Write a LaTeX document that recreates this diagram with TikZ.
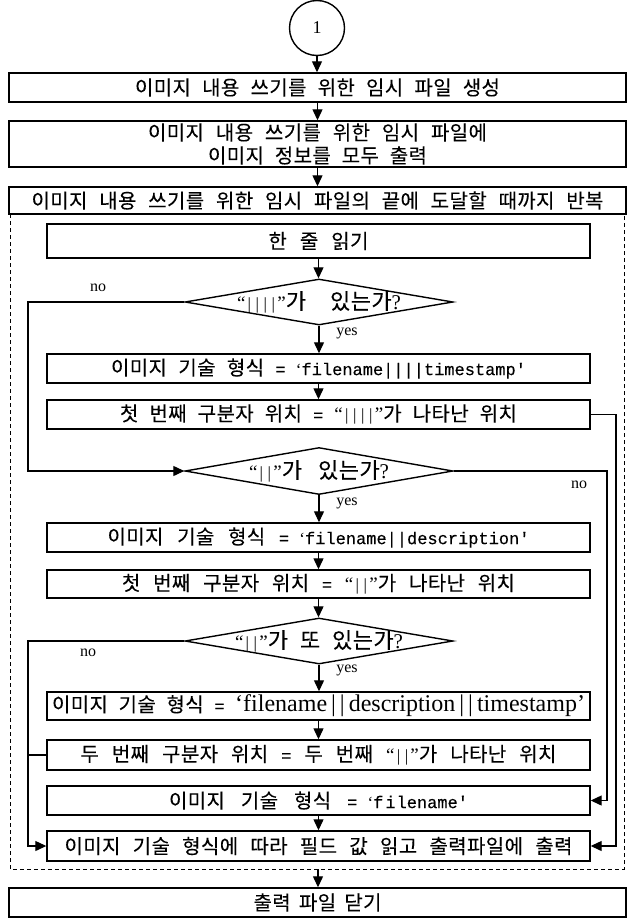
\documentclass[tikz,border=0pt]{standalone}
\usepackage{fontspec}
\setmainfont{Liberation Serif}
\setmonofont[FakeBold=0.3]{Liberation Mono}
\newfontfamily\krfont[LetterSpace=2,FakeBold=0.12]{Noto Sans CJK KR}
\newfontfamily\krdfont[LetterSpace=2,FakeBold=0.12]{Noto Sans CJK KR}
\usetikzlibrary{arrows.meta,shapes.geometric}
\newcommand\mn[1]{{\ttfamily\fontsize{17}{18}\selectfont #1}}
\newcommand\myvb{\hbox to 8pt{\hss{\rmfamily\fontsize{17}{17}\selectfont|}\hss}}
\newcommand\myoq{{\rmfamily\fontsize{19}{19}\selectfont “}}
\newcommand\mycq{{\rmfamily\fontsize{19}{19}\selectfont ”}}
\newcommand\myqm{{\rmfamily\fontsize{21}{21}\selectfont ?}}
\newcommand\qbars[1]{\myoq#1\mycq}
\newcommand\fourbars{\qbars{\myvb\myvb\myvb\myvb}}
\newcommand\twobars{\qbars{\myvb\myvb}}
\newcommand\wline[2]{\makebox[#1pt][s]{#2}}
\tikzset{
  box/.style={draw, line width=1.4pt, fill=white, inner sep=0pt, align=center,
    font=\krfont\fontsize{20}{23}\selectfont},
  inbox/.style={box, minimum width=543pt},
  bigbox/.style={box, minimum width=617pt},
  dec/.style={draw, diamond, aspect=5.8, line width=1.4pt, fill=white, inner sep=0pt,
    minimum width=268pt, minimum height=46pt, font=\krdfont\fontsize{22}{24}\selectfont},
  arr/.style={line width=1.2pt, -{Triangle[length=11pt,width=10pt]}},
  conn/.style={line width=1.2pt},
  lbl/.style={font=\rmfamily\fontsize{16}{18}\selectfont, inner sep=0pt},
  loopframe/.style={line width=1pt, dash pattern=on 4pt off 3pt}
}
\begin{document}
\begin{tikzpicture}[x=1pt,y=-1pt]
\useasboundingbox (0,0) rectangle (629,918);
\draw[loopframe] (10,214) rectangle (624,869);
\coordinate (dbot) at (318,869);
\coordinate (lx) at (28,0);
\coordinate (rxi) at (607,0);
\coordinate (rxo) at (616,0);

\node[draw, circle, line width=1.4pt, minimum size=55pt, inner sep=0pt,
  font=\rmfamily\fontsize{18}{20}\selectfont] (c1) at (317,28) {1};
\node[bigbox, minimum height=29pt] (b1) at (317.5,87.5) {\wline{365}{이미지 내용 쓰기를 위한 임시 파일 생성}};
\node[bigbox, minimum height=46pt] (b2) at (317.5,144) {\wline{339}{이미지 내용 쓰기를 위한 임시 파일에}\\\wline{219}{이미지 정보를 모두 출력}};
\node[bigbox, minimum height=27pt] (b3) at (317.5,200.5) {\wline{572}{이미지 내용 쓰기를 위한 임시 파일의 끝에 도달할 때까지 반복}};
\node[inbox, minimum height=34pt] (r) at (318.5,241) {\wline{100}{한 줄 읽기}};
\node[dec] (d1) at (319,302) {\makebox[0pt]{\wline{164}{\fourbars 가 있는가\myqm}}};
\node[inbox, minimum height=29pt] (f4) at (318.5,368.5) {\wline{415}{이미지 기술 형식 \mn{= {\rmfamily‘}filename||||timestamp'}}};
\node[inbox, minimum height=29pt] (s4) at (318.5,414.5) {\wline{397}{첫 번째 구분자 위치 \mn{=} \fourbars 가 나타난 위치}};
\node[dec, minimum height=47pt] (d2) at (319,471) {\makebox[0pt]{\wline{140}{\twobars 가 있는가\myqm}}};
\node[inbox, minimum height=29pt] (fd) at (318.5,537.5) {\wline{422}{이미지 기술 형식 \mn{= {\rmfamily‘}filename||description'}}};
\node[inbox, minimum height=28pt] (s2) at (318.5,584) {\wline{393}{첫 번째 구분자 위치 \mn{=} \twobars 가 나타난 위치}};
\node[dec] (d3) at (319,641) {\makebox[0pt]{\wline{168}{\twobars 가 또 있는가\myqm}}};
\node[inbox, minimum height=28pt] (fdt) at (318.5,706) {\wline{533}{이미지 기술 형식 \mn{=} {\rmfamily\fontsize{24}{25}\selectfont ‘filename\,|\,|\,description\,|\,|\,timestamp’}}};
\node[inbox, minimum height=30pt] (ss) at (318.5,755) {\wline{476}{두 번째 구분자 위치 \mn{=} 두 번째 \twobars 가 나타난 위치}};
\node[inbox, minimum height=29pt] (fn) at (318.5,800.5) {\wline{299}{이미지 기술 형식 \mn{= {\rmfamily‘}f\kern2pt i\kern1pt lename'}}};
\node[inbox, minimum height=30pt] (out) at (318.5,846) {\wline{508}{이미지 기술 형식에 따라 필드 값 읽고 출력파일에 출력}};
\node[bigbox, minimum height=29pt] (close) at (317.5,902.5) {\wline{128}{출력 파일 닫기}};

\node[lbl] (no1) at (98,288) {no};
\node[lbl] (yes1) at (347,333) {yes};
\node[lbl] (no2) at (579,485) {no};
\node[lbl] (yes2) at (347,503) {yes};
\node[lbl] (no3) at (88,653) {no};
\node[lbl] (yes3) at (347,670) {yes};

\draw[arr] (c1.south) -- (c1.south |- b1.north);
\draw[arr] (b1.south) -- (b1.south |- b2.north);
\draw[arr] (b2.south) -- (b2.south |- b3.north);
\draw[arr] (r.south) -- (r.south |- d1.north);
\draw[arr] (d1.south) -- (d1.south |- f4.north);
\draw[arr] (f4.south) -- (f4.south |- s4.north);
\draw[arr] (d2.south) -- (d2.south |- fd.north);
\draw[arr] (fd.south) -- (fd.south |- s2.north);
\draw[arr] (s2.south) -- (s2.south |- d3.north);
\draw[arr] (d3.south) -- (d3.south |- fdt.north);
\draw[arr] (fdt.south) -- (fdt.south |- ss.north);
\draw[arr] (fn.south) -- (fn.south |- out.north);
\draw[arr] (dbot) -- (dbot |- close.north);

\draw[arr] (d1.west) -- (d1.west -| lx) |- (d2.west);
\draw[arr] (d3.west) -- (d3.west -| lx) |- (out.west);
\draw[conn] (ss.west) -- (ss.west -| lx);
\draw[arr] (s4.east) -- (s4.east -| rxo) |- (out.east);
\draw[arr] (d2.east) -- (d2.east -| rxi) |- (fn.east);
\end{tikzpicture}
\end{document}
